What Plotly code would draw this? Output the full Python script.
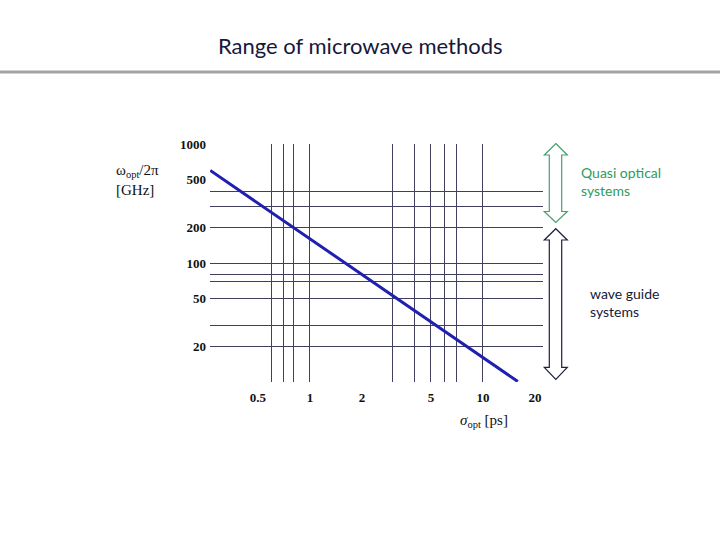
import plotly.graph_objects as go

# ---- data ----
sigma_ps = [0.265, 1.0, 5.0, 15.9]          # sigma_opt [ps]
freq_ghz = [600, 160, 32, 10.1]             # omega_opt / 2pi [GHz]

x_tickvals = [0.5, 1, 2, 5, 10, 20]
x_ticktext = ["0.5", "1", "2", "5", "10", "20"]
y_tickvals = [20, 50, 100, 200, 500, 1000]
y_ticktext = ["20", "50", "100", "200", "500", "1000"]
x_gridvals = [0.6, 0.7, 0.8, 1, 3, 4, 5, 6, 7, 10]
y_gridvals = [20, 30, 50, 70, 80, 100, 200, 300, 400]

# ---- layout geometry (pixels) ----
W, H = 720, 540
L, R, T, B = 210, 543, 144, 382
PW, PH = R - L, B - T


def px(x):
    return (x - L) / PW


def py(y):
    return (B - y) / PH


fig = go.Figure()
fig.add_trace(go.Scatter(x=sigma_ps, y=freq_ghz, mode="lines",
                         line=dict(color="#1f1fb0", width=3),
                         hoverinfo="skip", showlegend=False))

gridc = "#40405e"
tickfont = dict(family="Liberation Serif", size=13, color="#111111")
fig.update_xaxes(type="log", range=[-0.578, 1.347], showgrid=False, zeroline=False,
                 showline=False, ticks="", tickmode="array", tickvals=x_tickvals,
                 ticktext=[f"<b>{t}</b>" for t in x_ticktext], tickfont=tickfont,
                 ticklabelstandoff=6,
                 minor=dict(tickmode="array", tickvals=x_gridvals, showgrid=True,
                            gridcolor=gridc, gridwidth=1, ticks=""))
fig.update_yaxes(type="log", range=[1.0, 3.0], showgrid=False, zeroline=False,
                 showline=False, ticks="", tickmode="array", tickvals=y_tickvals,
                 ticktext=[f"<b>{t}</b>" for t in y_ticktext], tickfont=tickfont,
                 ticklabelstandoff=3,
                 minor=dict(tickmode="array", tickvals=y_gridvals, showgrid=True,
                            gridcolor=gridc, gridwidth=1, ticks=""))


def arrow_path(cx, ytop, hb_top, hb_bot, ybot, hx0, hx1, sx0, sx1):
    pts = [(cx, ytop), (hx1, hb_top), (sx1, hb_top), (sx1, hb_bot), (hx1, hb_bot),
           (cx, ybot), (hx0, hb_bot), (sx0, hb_bot), (sx0, hb_top), (hx0, hb_top)]
    return "M " + " L ".join(f"{px(a):.5f} {py(b):.5f}" for a, b in pts) + " Z"


shapes = [
    dict(type="line", xref="paper", yref="paper", x0=px(0), x1=px(W), y0=py(72), y1=py(72),
         line=dict(color="#a3a3a3", width=3)),
    dict(type="path", xref="paper", yref="paper",
         path=arrow_path(555.8, 143.5, 155, 211.5, 222.5, 544.3, 567.3, 549.3, 561.7),
         line=dict(color="#45a070", width=1.2), fillcolor="rgba(0,0,0,0)"),
    dict(type="path", xref="paper", yref="paper",
         path=arrow_path(555.8, 228.7, 240, 367.3, 379.3, 544.3, 567.3, 549.3, 561.7),
         line=dict(color="#1a2040", width=1.2), fillcolor="rgba(0,0,0,0)"),
]

annotations = [
    dict(text="Range of microwave methods", xref="paper", yref="paper",
         x=px(360), y=py(46), xanchor="center", yanchor="middle", showarrow=False,
         font=dict(family="Lato", size=22, color="#16183a")),
    dict(text="ω<sub>opt</sub>/2π<br>[GHz]", xref="paper", yref="paper",
         x=px(114), y=py(180), xanchor="left", yanchor="middle", showarrow=False,
         align="left", font=dict(family="Liberation Serif", size=15, color="#111111")),
    dict(text="<i>σ</i><sub>opt</sub> [ps]", xref="paper", yref="paper",
         x=px(458), y=py(421), xanchor="left", yanchor="middle", showarrow=False,
         font=dict(family="Liberation Serif", size=15, color="#111111")),
    dict(text="Quasi optical<br>systems", xref="paper", yref="paper",
         x=px(579), y=py(181), xanchor="left", yanchor="middle", showarrow=False,
         align="left", font=dict(family="Lato", size=14, color="#2f9a5c")),
    dict(text="wave guide<br>systems", xref="paper", yref="paper",
         x=px(588), y=py(302), xanchor="left", yanchor="middle", showarrow=False,
         align="left", font=dict(family="Lato", size=14, color="#16183a")),
]

fig.update_layout(width=W, height=H, margin=dict(l=L, r=W - R, t=T, b=H - B),
                  paper_bgcolor="white", plot_bgcolor="white",
                  shapes=shapes, annotations=annotations, showlegend=False)

fig.write_html("out.html")
